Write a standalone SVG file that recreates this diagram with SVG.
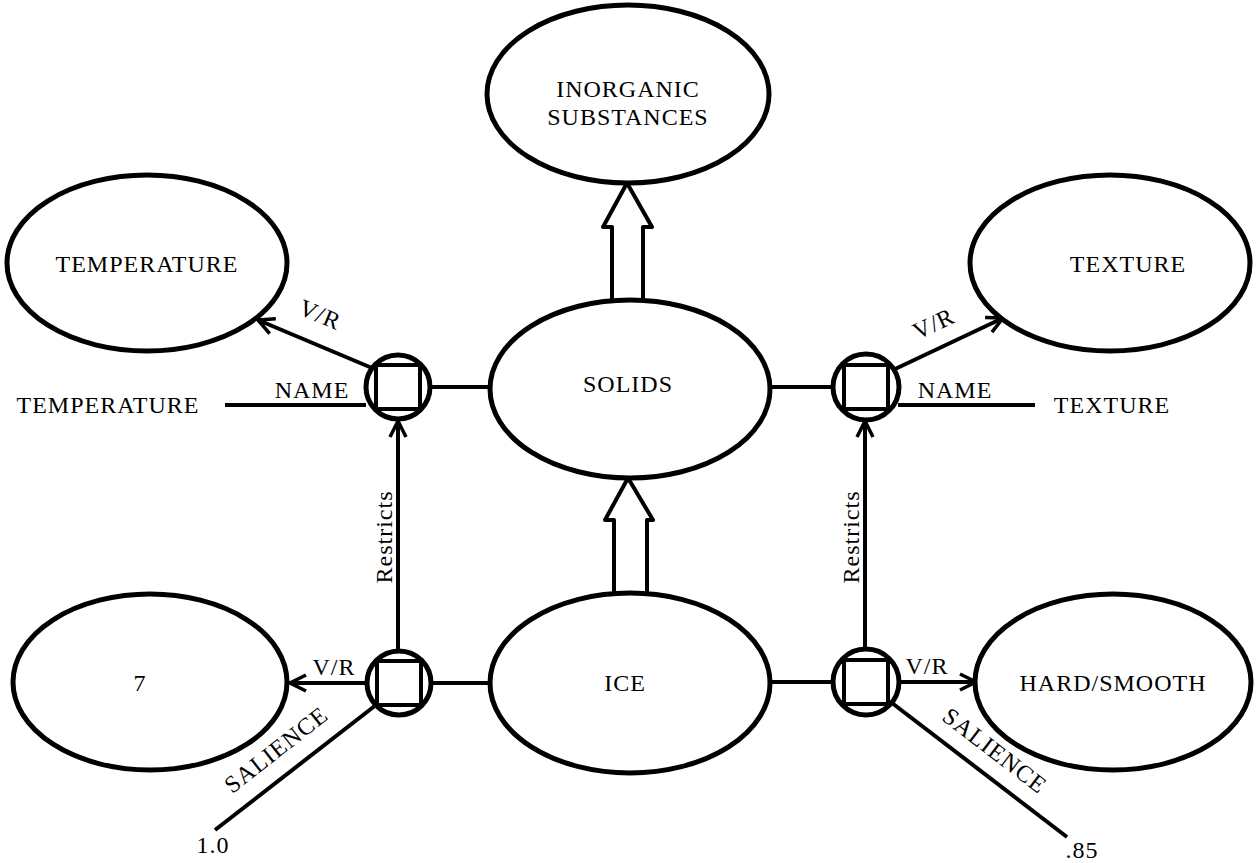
<svg xmlns="http://www.w3.org/2000/svg" width="1257" height="863" viewBox="0 0 1257 863">
<style>
.n{fill:#fff;stroke:#000;stroke-width:5}
.l{fill:none;stroke:#000;stroke-width:4}
.b{fill:#fff;stroke:#000;stroke-width:4;stroke-linejoin:round}
.t{font-family:"Liberation Serif","Times New Roman",serif;font-size:24px;letter-spacing:1px;fill:#000;text-anchor:middle}
.c{fill:#fff;stroke:#000;stroke-width:5}
.s{fill:none;stroke:#000;stroke-width:4}
</style>
<defs>
<marker id="ah" viewBox="0 0 20 20" refX="18" refY="10" markerWidth="20" markerHeight="20" markerUnits="userSpaceOnUse" orient="auto">
<path d="M2,2 L18,10 L2,18" fill="none" stroke="#000" stroke-width="3.5"/>
</marker>
</defs>
<g id="connectors">
<line class="l" x1="430" y1="387" x2="492" y2="387"/>
<line class="l" x1="768" y1="387" x2="834" y2="387"/>
<line class="l" x1="431" y1="683" x2="492" y2="683"/>
<line class="l" x1="768" y1="682" x2="834" y2="682"/>
<line class="l" x1="398" y1="651" x2="398" y2="421" marker-end="url(#ah)"/>
<line class="l" x1="865" y1="648" x2="865" y2="421" marker-end="url(#ah)"/>
<line class="l" x1="372" y1="368" x2="258" y2="320" marker-end="url(#ah)"/>
<line class="l" x1="893" y1="370" x2="1003" y2="318" marker-end="url(#ah)"/>
<line class="l" x1="367" y1="683" x2="290" y2="683" marker-end="url(#ah)"/>
<line class="l" x1="900" y1="682" x2="976" y2="682" marker-end="url(#ah)"/>
<line class="l" x1="366" y1="405" x2="225" y2="405"/>
<line class="l" x1="898" y1="405" x2="1035" y2="405"/>
<line class="l" x1="376" y1="705" x2="215" y2="830"/>
<line class="l" x1="892" y1="703" x2="1067" y2="837"/>
<polygon class="b" points="627,183 652,227 643,227 643,302 612,302 612,227 603,227"/>
<polygon class="b" points="628,478 653,520 647,520 647,596 614,596 614,520 605,520"/>
<text class="t" transform="translate(317,322) rotate(22.7)">V/R</text>
<text class="t" x="312" y="398">NAME</text>
<text class="t" x="108" y="413">TEMPERATURE</text>
<text class="t" transform="translate(937,331) rotate(-25)">V/R</text>
<text class="t" x="955" y="398">NAME</text>
<text class="t" x="1112" y="413">TEXTURE</text>
<text class="t" transform="translate(392,537) rotate(-90)">Restricts</text>
<text class="t" transform="translate(859,537) rotate(-90)">Restricts</text>
<text class="t" x="334" y="675">V/R</text>
<text class="t" x="927" y="674">V/R</text>
<text class="t" transform="translate(281,756) rotate(-38)">SALIENCE</text>
<text class="t" transform="translate(990,757) rotate(37.5)">SALIENCE</text>
<text class="t" x="213" y="853">1.0</text>
<text class="t" x="1082" y="858">.85</text>
</g>
<g id="inorganic"><ellipse class="n" cx="628" cy="94" rx="141" ry="89"/><text class="t" x="628" y="97">INORGANIC</text><text class="t" x="628" y="125">SUBSTANCES</text></g>
<g id="temperature"><ellipse class="n" cx="147" cy="263" rx="140" ry="88"/><text class="t" x="147" y="272">TEMPERATURE</text></g>
<g id="texture"><ellipse class="n" cx="1110" cy="263" rx="140" ry="88"/><text class="t" x="1128" y="272">TEXTURE</text></g>
<g id="solids"><ellipse class="n" cx="630" cy="389" rx="140" ry="89"/><text class="t" x="628" y="392">SOLIDS</text></g>
<g id="ice"><ellipse class="n" cx="630" cy="683" rx="140" ry="90"/><text class="t" x="625" y="691">ICE</text></g>
<g id="seven"><ellipse class="n" cx="150" cy="682" rx="137" ry="88"/><text class="t" x="140" y="691">7</text></g>
<g id="hardsmooth"><ellipse class="n" cx="1113" cy="682" rx="138" ry="88"/><text class="t" x="1113" y="691">HARD/SMOOTH</text></g>
<g id="slot-tl"><circle class="c" cx="398" cy="387" r="32"/><rect class="s" x="376" y="365" width="44" height="44"/></g>
<g id="slot-tr"><circle class="c" cx="866" cy="387" r="33"/><rect class="s" x="844" y="365" width="44" height="44"/></g>
<g id="slot-bl"><circle class="c" cx="399" cy="683" r="32"/><rect class="s" x="377" y="661" width="44" height="44"/></g>
<g id="slot-br"><circle class="c" cx="866" cy="682" r="33"/><rect class="s" x="844" y="660" width="44" height="44"/></g>
</svg>
